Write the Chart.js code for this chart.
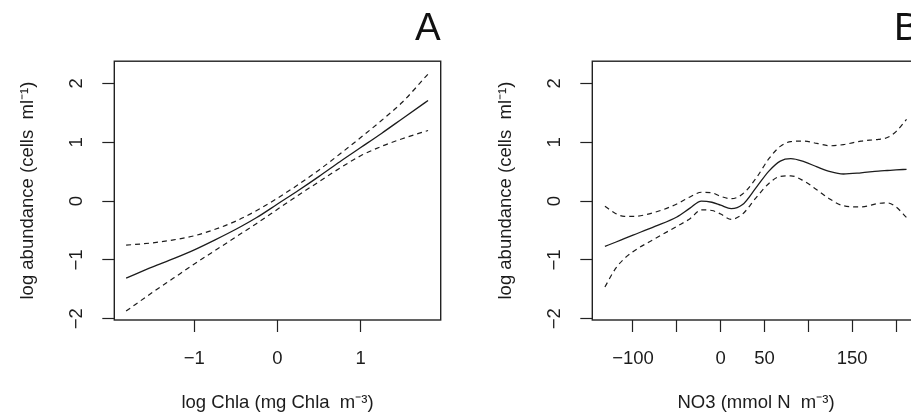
<!DOCTYPE html>
<html>
<head>
<meta charset="utf-8">
<script src="https://cdn.jsdelivr.net/npm/chart.js@4/dist/chart.umd.min.js"></script>
<style>
  html, body { margin: 0; padding: 0; background: #fff; width: 911px; height: 414px; overflow: hidden; position: relative; }
  canvas { position: absolute; top: 0; }
  #cA { left: 0; }
  #cB { left: 478px; }
</style>
</head>
<body>
<canvas id="cA" width="478" height="414"></canvas>
<canvas id="cB" width="479" height="414"></canvas>
<script>
// ---------- Panel A: log Chla ----------
const chlaX     = [-1.82, -1.5, -1.25, -1.0, -0.75, -0.5, -0.25, 0, 0.25, 0.5, 0.75, 1.0, 1.25, 1.5, 1.81];
const chlaFit   = [-1.31, -1.12, -0.98, -0.83, -0.66, -0.48, -0.28, -0.05, 0.18, 0.42, 0.67, 0.91, 1.15, 1.40, 1.71];
const chlaUpper = [-0.75, -0.71, -0.66, -0.59, -0.48, -0.34, -0.16, 0.05, 0.28, 0.53, 0.80, 1.08, 1.37, 1.68, 2.16];
const chlaLower = [-1.87, -1.55, -1.31, -1.07, -0.84, -0.61, -0.38, -0.14, 0.10, 0.33, 0.56, 0.77, 0.93, 1.06, 1.20];
const chlaTicks = [-1, 0, 1];

// ---------- Panel B: NO3 ----------
const no3X     = [-132, -120, -110, -100, -75, -50, -35, -22, -10, 0, 12, 25, 40, 55, 68, 80, 95, 110, 125, 140, 160, 180, 190, 200, 212];
const no3Fit   = [-0.77, -0.70, -0.64, -0.58, -0.43, -0.27, -0.12, 0.00, -0.02, -0.07, -0.13, -0.06, 0.22, 0.51, 0.68, 0.72, 0.67, 0.58, 0.50, 0.46, 0.48, 0.51, 0.52, 0.53, 0.54];
const no3Upper = [-0.09, -0.21, -0.26, -0.26, -0.19, -0.05, 0.07, 0.15, 0.14, 0.08, 0.04, 0.12, 0.38, 0.72, 0.93, 1.01, 1.02, 0.98, 0.94, 0.96, 1.02, 1.05, 1.08, 1.18, 1.39];
const no3Lower = [-1.46, -1.15, -0.98, -0.86, -0.64, -0.43, -0.30, -0.15, -0.16, -0.22, -0.31, -0.22, 0.05, 0.30, 0.42, 0.43, 0.34, 0.19, 0.03, -0.08, -0.10, -0.04, -0.03, -0.10, -0.28];
const no3LabelledTicks = [-100, 0, 50, 150];

const yTicks = [-2, -1, 0, 1, 2];
const yTitle = 'log abundance (cells  ml\u207B\u00B9)';

const FONT = "'Liberation Sans', Arial, Helvetica, sans-serif";
const INK = '#1c1c1c';

function minusFmt(v) {
  return v < 0 ? '\u2212' + Math.abs(v) : String(v);
}

const boxPlugin = {
  id: 'box',
  afterDraw(chart) {
    const a = chart.chartArea, ctx = chart.ctx;
    ctx.save();
    ctx.strokeStyle = '#222';
    ctx.lineWidth = 1.4;
    ctx.strokeRect(a.left, a.top, a.right - a.left, a.bottom - a.top);
    ctx.restore();
  }
};

function pts(xs, ys) { return xs.map((x, i) => ({ x: x, y: ys[i] })); }

function makePanel(id, letter, xs, fit, up, lo, xmin, xmax, step, labelFn, xTitle) {
  const ds = (data, dashed) => ({
    data: data,
    borderColor: INK,
    borderWidth: dashed ? 1.2 : 1.3,
    borderDash: dashed ? [5, 4] : [],
    pointRadius: 0,
    fill: false,
    cubicInterpolationMode: 'monotone'
  });
  return new Chart(document.getElementById(id), {
    type: 'line',
    data: { datasets: [ds(pts(xs, fit), false), ds(pts(xs, up), true), ds(pts(xs, lo), true)] },
    plugins: [boxPlugin],
    options: {
      responsive: false,
      animation: false,
      devicePixelRatio: 1,
      layout: { padding: { left: 0, right: 37.3, top: 0, bottom: 0 } },
      plugins: {
        legend: { display: false },
        tooltip: { enabled: false },
        title: {
          display: true, text: letter, align: 'end', color: '#111',
          font: { family: FONT, size: 38.5, weight: 'normal', lineHeight: 1 },
          padding: { top: 10, bottom: 12.7 }
        }
      },
      scales: {
        x: {
          type: 'linear', min: xmin, max: xmax,
          afterFit: s => { s.height = 94; },
          border: { display: false },
          grid: { display: true, drawOnChartArea: false, drawTicks: true, tickLength: 12, color: '#222', tickWidth: 1.2 },
          ticks: { stepSize: step, includeBounds: false, autoSkip: false, maxRotation: 0, minRotation: 0, padding: 16, color: INK,
                   font: { family: FONT, size: 18.5 }, callback: labelFn },
          title: { display: true, text: xTitle, color: INK, font: { family: FONT, size: 18.5 }, padding: { top: 0, bottom: 0 } }
        },
        y: {
          type: 'linear', min: -2.022, max: 2.378,
          afterFit: s => { s.width = 114.3; },
          border: { display: false },
          grid: { display: true, drawOnChartArea: false, drawTicks: true, tickLength: 12, color: '#222', tickWidth: 1.2 },
          afterBuildTicks: s => { s.ticks = yTicks.map(v => ({ value: v })); },
          ticks: { includeBounds: false, autoSkip: false, minRotation: 90, maxRotation: 90, crossAlign: 'center', padding: 14.5, color: INK,
                   font: { family: FONT, size: 18.5 }, callback: v => minusFmt(v) },
          title: { display: true, text: yTitle, color: INK, font: { family: FONT, size: 18.5 }, padding: { top: 17, bottom: 0 } }
        }
      }
    }
  });
}

makePanel('cA', 'A', chlaX, chlaFit, chlaUpper, chlaLower, -1.962, 1.962, 1,
  v => (chlaTicks.includes(Math.round(v * 1000) / 1000) ? minusFmt(v) : ''),
  'log Chla (mg Chla  m\u207B\u00B3)');

makePanel('cB', 'B', no3X, no3Fit, no3Upper, no3Lower, -146.4, 227.0, 50,
  v => (no3LabelledTicks.includes(v) ? minusFmt(v) : ''),
  'NO3 (mmol N  m\u207B\u00B3)');
</script>
</body>
</html>
